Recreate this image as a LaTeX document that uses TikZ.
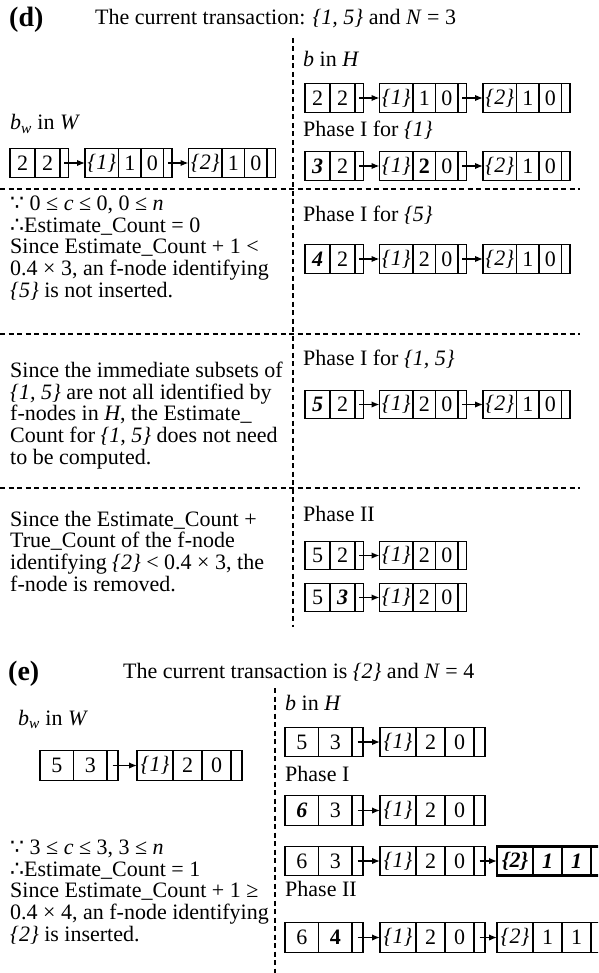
\documentclass[tikz,border=0pt]{standalone}
\usepackage{fontspec}
\setmainfont{Liberation Serif}
\newfontfamily\dotsfont{DejaVu Sans}
\usetikzlibrary{positioning}
\usetikzlibrary{arrows.meta}

\newcommand{\bfit}[1]{\textbf{\textit{#1}}}
% head of a bucket: two counters and a pointer cell
\newcommand{\headcells}[4]{%
  \node[numcell] (#1a) at #2 {#3};
  \node[numcell, right=0pt of #1a] (#1b) {#4};
  \node[ptrcell, right=0pt of #1b] (#1p) {};
}
% f-node: itemset, two counts, pointer cell, linked from the previous one
\newcommand{\fnodecells}[7][]{%
  \node[setcell, #1, right=#4 of #3p] (#2s) {#5};
  \node[valcell, #1, right=0pt of #2s] (#2c) {#6};
  \node[valcell, #1, right=0pt of #2c] (#2d) {#7};
  \node[ptrcell, #1, right=0pt of #2d] (#2p) {};
  \draw[link] (#3p.center) -- (#2s.west);
}

\begin{document}
\begin{tikzpicture}[
    x=1pt, y=-1pt,
    cell/.style={draw, line width=1.2pt, minimum height=28.5pt, inner sep=0pt, outer sep=0pt, anchor=west, font=\fontsize{22}{22}\selectfont},
    numcell/.style={cell, minimum width=25pt},
    ptrcell/.style={cell, minimum width=8.5pt},
    setcell/.style={cell, minimum width=33.5pt},
    valcell/.style={cell, minimum width=22.5pt},
    thickcell/.style={line width=2.6pt},
    link/.style={-{Latex[length=8pt,width=6.5pt]}, line width=1.5pt},
    txt/.style={anchor=base west, inner sep=0pt, align=left, font=\fontsize{22}{21.6}\selectfont},
    panel/.style={anchor=base west, inner sep=0pt, font=\fontsize{28}{28}\selectfont\bfseries},
    sep/.style={dash pattern=on 5pt off 3.5pt, line width=1.1pt}
]
\useasboundingbox (0,0) rectangle (598,973);
\clip (0,0) rectangle (598,973);

% (d)
\node[panel] (dlab) at (9,27) {(d)};
\node[txt] (dtitle) at (95,25) {The current transaction: \textit{\{1, 5\}} and \textit{N} = 3};
\draw[sep] (293,38) -- (293,627);
\draw[sep] (0,189) -- (580,189);
\draw[sep] (0,334) -- (580,334);
\draw[sep] (0,488) -- (580,488);

\node[txt] (dbw) at (10,130) {\textit{b}\textsubscript{\textit{w}} in \textit{W}};
\headcells{dw}{(10,163)}{2}{2}
\fnodecells{dwf1}{dw}{16.5pt}{\textit{\{1\}}}{1}{0}
\fnodecells{dwf2}{dwf1}{16.5pt}{\textit{\{2\}}}{1}{0}

\node[txt] (dbh) at (303,67) {\textit{b} in \textit{H}};
\headcells{dh}{(305,98)}{2}{2}
\fnodecells{dhf1}{dh}{16pt}{\textit{\{1\}}}{1}{0}
\fnodecells{dhf2}{dhf1}{16.5pt}{\textit{\{2\}}}{1}{0}

\node[txt] (dph1) at (303,137) {Phase I for \textit{\{1\}}};
\headcells{dp1}{(305,166)}{\bfit{3}}{2}
\fnodecells{dp1f1}{dp1}{16pt}{\textit{\{1\}}}{\textbf{2}}{0}
\fnodecells{dp1f2}{dp1f1}{16.5pt}{\textit{\{2\}}}{1}{0}

% base of a multi-line text is its last line
\node[txt] (dcase1) at (10,297) {{\dotsfont ∵} 0 ≤ \textit{c} ≤ 0, 0 ≤ \textit{n}\\
{\dotsfont ∴}Estimate\_Count = 0\\
Since Estimate\_Count + 1 <\\
0.4 × 3, an f-node identifying\\
\textit{\{5\}} is not inserted.};
\node[txt] (dph5) at (303,222) {Phase I for \textit{\{5\}}};
\headcells{dp5}{(305,259)}{\bfit{4}}{2}
\fnodecells{dp5f1}{dp5}{16pt}{\textit{\{1\}}}{2}{0}
\fnodecells{dp5f2}{dp5f1}{16.5pt}{\textit{\{2\}}}{1}{0}

\node[txt] (dcase2) at (10,464) {Since the immediate subsets of\\
\textit{\{1, 5\}} are not all identified by\\
f-nodes in \textit{H}, the Estimate\_\\
Count for \textit{\{1, 5\}} does not need\\
to be computed.};
\node[txt] (dph15) at (303,365) {Phase I for \textit{\{1, 5\}}};
\headcells{dp15}{(305,404.5)}{\bfit{5}}{2}
\fnodecells{dp15f1}{dp15}{16pt}{\textit{\{1\}}}{2}{0}
\fnodecells{dp15f2}{dp15f1}{16.5pt}{\textit{\{2\}}}{1}{0}

\node[txt] (dcase3) at (10,591) {Since the Estimate\_Count +\\
True\_Count of the f-node\\
identifying \textit{\{2\}} < 0.4 × 3, the\\
f-node is removed.};
\node[txt] (dph2) at (303,521) {Phase II};
\headcells{dq1}{(305,555.5)}{5}{2}
\fnodecells{dq1f1}{dq1}{16pt}{\textit{\{1\}}}{2}{0}
\headcells{dq2}{(305,597.5)}{5}{\bfit{3}}
\fnodecells{dq2f1}{dq2}{16pt}{\textit{\{1\}}}{2}{0}

% (e)
\node[panel] (elab) at (8,680) {(e)};
\node[txt] (etitle) at (123,678) {The current transaction is \textit{\{2\}} and \textit{N} = 4};
\draw[sep] (275,688) -- (275,973);

\begin{scope}[
    cell/.append style={minimum height=29.5pt},
    numcell/.style={cell, minimum width=33.5pt},
    ptrcell/.style={cell, minimum width=11pt},
    setcell/.style={cell, minimum width=36pt},
    valcell/.style={cell, minimum width=29pt}
]
\node[txt] (ebw) at (18,725) {\textit{b}\textsubscript{\textit{w}} in \textit{W}};
\headcells{ew}{(40,765.5)}{5}{3}
\fnodecells{ewf1}{ew}{19pt}{\textit{\{1\}}}{2}{0}

\node[txt] (ecase) at (10,941) {{\dotsfont ∵} 3 ≤ \textit{c} ≤ 3, 3 ≤ \textit{n}\\
{\dotsfont ∴}Estimate\_Count = 1\\
Since Estimate\_Count + 1 ≥\\
0.4 × 4, an f-node identifying\\
\textit{\{2\}} is inserted.};

\node[txt] (ebh) at (285,710) {\textit{b} in \textit{H}};
\headcells{eh}{(285,742)}{5}{3}
\fnodecells{ehf1}{eh}{17pt}{\textit{\{1\}}}{2}{0}

\node[txt] (eph1) at (285,781) {Phase I};
\headcells{ep1}{(285,810.5)}{\bfit{6}}{3}
\fnodecells{ep1f1}{ep1}{17pt}{\textit{\{1\}}}{2}{0}
\headcells{ep2}{(285,861)}{6}{3}
\fnodecells{ep2f1}{ep2}{17pt}{\textit{\{1\}}}{2}{0}
\fnodecells[thickcell]{ep2f2}{ep2f1}{12pt}{\bfit{\{2\}}}{\bfit{1}}{\bfit{1}}

\node[txt] (eph2) at (285,896) {Phase II};
\headcells{eq}{(285,937.5)}{6}{\textbf{4}}
\fnodecells{eqf1}{eq}{17pt}{\textit{\{1\}}}{2}{0}
\fnodecells{eqf2}{eqf1}{12pt}{\textit{\{2\}}}{1}{1}
\end{scope}
\end{tikzpicture}
\end{document}
